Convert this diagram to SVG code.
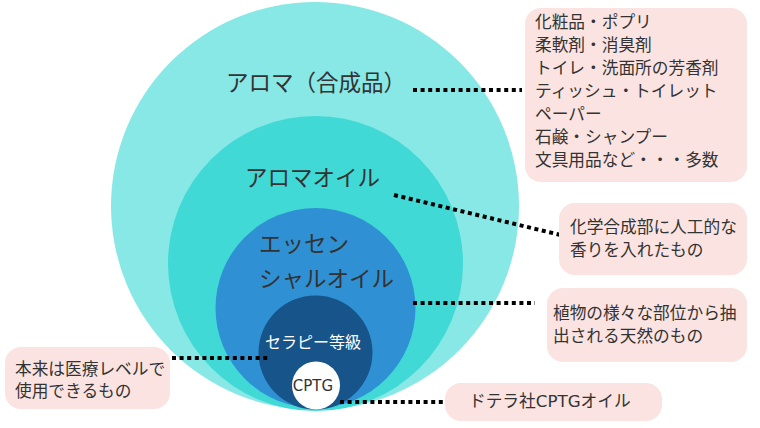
<svg xmlns="http://www.w3.org/2000/svg" width="760" height="428" viewBox="0 0 760 428">
<style>
text{font-family:"Noto Sans CJK JP","Noto Sans",sans-serif;fill:#333}
.big{font-size:22.5px}
.note{font-size:16.7px}
.lat{font-family:"DejaVu Sans","Noto Sans CJK JP",sans-serif}
.box{fill:#FAE3E1}
.dot{stroke:#000;stroke-width:4;stroke-dasharray:4 3.6;fill:none}
</style>
<rect width="760" height="428" fill="#fff"/>
<g id="aroma-synthetic">
<circle cx="315" cy="206" r="204" fill="#87E8E6"/>
<text class="big" x="226" y="90.5">アロマ（合成品）</text>
</g>
<g id="aroma-oil">
<circle cx="315.5" cy="263.5" r="147.5" fill="#40D9D6"/>
<text class="big" x="245" y="185.5">アロマオイル</text>
</g>
<g id="essential-oil">
<circle cx="315.5" cy="308" r="100" fill="#2F91D4"/>
<text class="big" x="259" y="251.5">エッセン</text>
<text class="big" x="259" y="286.5">シャルオイル</text>
</g>
<g id="therapy-grade">
<circle cx="315.5" cy="352.5" r="57" fill="#17548A"/>
<text x="313" y="348" style="font-size:16px;fill:#fff" text-anchor="middle">セラピー等級</text>
</g>
<g id="cptg">
<circle cx="316" cy="385.5" r="24" fill="#fff"/>
<text class="lat" x="313" y="390.5" style="font-size:15px" text-anchor="middle">CPTG</text>
</g>
<g id="connectors">
<line class="dot" x1="413" y1="90" x2="522" y2="90"/>
<line class="dot" x1="394" y1="195" x2="569" y2="237"/>
<line class="dot" x1="413" y1="303" x2="535" y2="303"/>
<line class="dot" x1="172" y1="358" x2="268" y2="358"/>
<line class="dot" x1="340" y1="402" x2="466" y2="402"/>
</g>
<g id="note-products">
<rect class="box" x="525" y="8" width="222" height="174" rx="16"/>
<text class="note" x="535" y="27.5">化粧品・ポプリ</text>
<text class="note" x="535" y="50.6">柔軟剤・消臭剤</text>
<text class="note" x="535" y="73.7">トイレ・洗面所の芳香剤</text>
<text class="note" x="535" y="96.8">ティッシュ・トイレット</text>
<text class="note" x="535" y="119.9">ペーパー</text>
<text class="note" x="535" y="143">石鹸・シャンプー</text>
<text class="note" x="535" y="166.1">文具用品など・・・多数</text>
</g>
<g id="note-chemical">
<rect class="box" x="559" y="203" width="188" height="72" rx="16"/>
<text class="note" x="570" y="233">化学合成部に人工的な</text>
<text class="note" x="570" y="256">香りを入れたもの</text>
</g>
<g id="note-natural">
<rect class="box" x="547" y="288" width="200" height="74" rx="16"/>
<text class="note" x="553" y="319">植物の様々な部位から抽</text>
<text class="note" x="553" y="342">出される天然のもの</text>
</g>
<g id="note-medical">
<rect class="box" x="5" y="347" width="165" height="62" rx="16"/>
<text class="note" x="15" y="375">本来は医療レベルで</text>
<text class="note" x="15" y="397">使用できるもの</text>
</g>
<g id="note-doterra">
<rect class="box" x="445" y="383" width="217" height="38" rx="16"/>
<text class="note" x="469" y="407">ドテラ社<tspan class="lat">CPTG</tspan>オイル</text>
</g>
</svg>
